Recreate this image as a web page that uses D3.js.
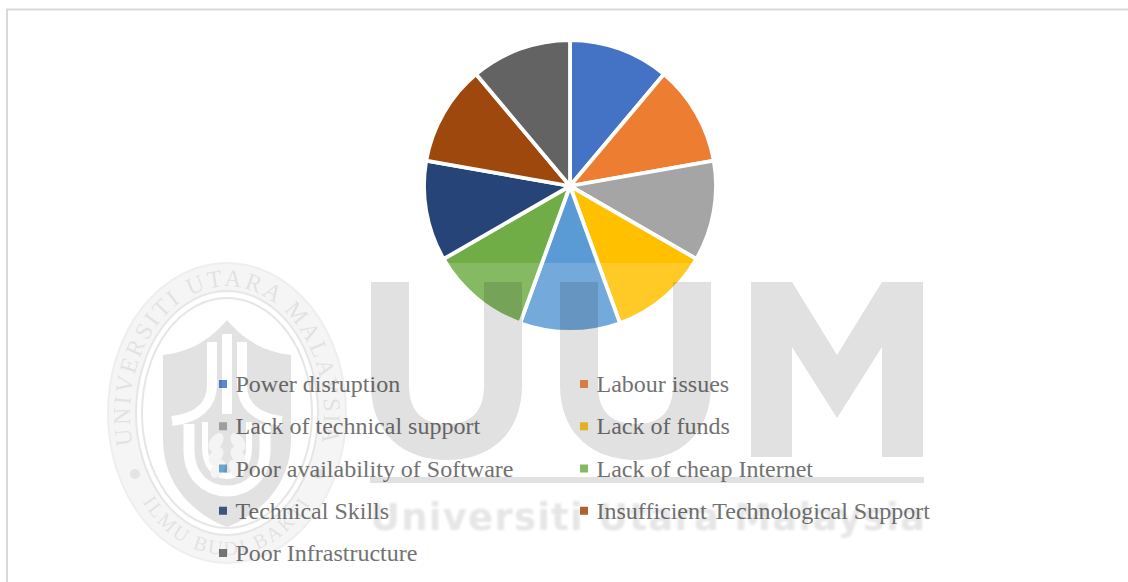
<!DOCTYPE html>
<html>
<head>
<meta charset="utf-8">
<script src="https://cdn.jsdelivr.net/npm/d3@7"></script>
<style>
  html, body { margin: 0; padding: 0; background: #fff; }
  svg { display: block; }
</style>
</head>
<body>
<svg id="chart" width="1128" height="582"></svg>
<script>
// Challenges to adoption, shown as a nine-part pie with a two-column legend.
const categories = [
  "Power disruption", "Labour issues", "Lack of technical support", "Lack of funds",
  "Poor availability of Software", "Lack of cheap Internet", "Technical Skills",
  "Insufficient Technological Support", "Poor Infrastructure"
];
const shares = [1, 1, 1, 1, 1, 1, 1, 1, 1];
const palette = ["#4472c4", "#ed7d31", "#a5a5a5", "#ffc000", "#5b9bd5", "#70ad47", "#264478", "#9e480e", "#636363"];

const svg = d3.select("#chart");
const defs = svg.append("defs");
defs.append("filter").attr("id", "soft").append("feGaussianBlur").attr("stdDeviation", 0.7);
defs.append("filter").attr("id", "softer").append("feGaussianBlur").attr("stdDeviation", 1.1);

// Page frame: only the top and left edges are visible.
svg.append("path").attr("d", "M1128,9.5H7V582").attr("fill", "none").attr("stroke", "#d9d9d9").attr("stroke-width", 2);

// Pie
const colour = d3.scaleOrdinal().domain(categories).range(palette);
const pie = d3.pie().value(d => d.share).sort(null);
const arc = d3.arc().innerRadius(0).outerRadius(146);
const rows = categories.map((name, i) => ({ name, share: shares[i] }));

svg.append("g").attr("transform", "translate(570,186)")
  .selectAll("path").data(pie(rows)).join("path")
  .attr("d", arc)
  .attr("fill", d => colour(d.data.name))
  .attr("stroke", "#fff").attr("stroke-width", 3.8).attr("stroke-linejoin", "miter");

// Legend, filled row by row
const colX = d3.scalePoint().domain([0, 1]).range([219, 580]);
const rowY = d3.scalePoint().domain(d3.range(5)).range([384, 553]);
const legend = svg.append("g").selectAll("g").data(categories).join("g")
  .attr("transform", (d, i) => `translate(${colX(i % 2)},${rowY(Math.floor(i / 2))})`);
legend.append("rect").attr("y", -4).attr("width", 8).attr("height", 8).attr("fill", d => colour(d));
legend.append("text").attr("x", 16.5).attr("y", 8)
  .attr("font-family", "'Liberation Serif', serif").attr("font-size", 24)
  .attr("fill", "#595959").text(d => d);

// Paper-mark layer: a faint veil, then the crest and wordmark printed over everything.
svg.append("rect").attr("x", 100).attr("y", 263).attr("width", 830).attr("height", 300)
  .attr("fill", "#fff").attr("opacity", 0.15);

const mark = svg.append("g").style("mix-blend-mode", "multiply");
const ink = "#e1e1e1";

// Wordmark: U U M
const letters = mark.append("g").attr("fill", ink).attr("filter", "url(#soft)");
const uShape = x => `M${x},282H${x + 38}V385C${x + 38},412 ${x + 52},424 ${x + 76},424C${x + 100},424 ${x + 113},412 ${x + 113},385V282H${x + 151}V385C${x + 151},433 ${x + 120},460 ${x + 76},460C${x + 32},460 ${x},433 ${x},385Z`;
letters.append("path").attr("d", uShape(371));
letters.append("path").attr("d", uShape(560));
letters.append("path").attr("d", "M751,282H792L837,355L882,282H923V457H882V347L837,418L792,347V457H751Z");
letters.append("rect").attr("x", 370).attr("y", 477).attr("width", 554).attr("height", 6);
mark.append("text").attr("x", 370).attr("y", 530)
  .attr("font-family", "'DejaVu Sans', sans-serif").attr("font-weight", "bold").attr("font-size", 37)
  .attr("textLength", 555).attr("lengthAdjust", "spacing")
  .attr("fill", "#e6e6e6").attr("filter", "url(#softer)")
  .text("Universiti Utara Malaysia");

// Crest
const crest = mark.append("g").attr("filter", "url(#soft)");
const cx = 227, cy = 413;
crest.append("ellipse").attr("cx", cx).attr("cy", cy).attr("rx", 119).attr("ry", 150)
  .attr("fill", "#f5f5f5").attr("stroke", "#eeeeee").attr("stroke-width", 2);
crest.append("ellipse").attr("cx", cx).attr("cy", cy).attr("rx", 91).attr("ry", 122)
  .attr("fill", "#fff").attr("stroke", "#e6e6e6").attr("stroke-width", 2);
crest.append("ellipse").attr("cx", cx).attr("cy", cy).attr("rx", 85).attr("ry", 115)
  .attr("fill", "#fff").attr("stroke", "#e6e6e6").attr("stroke-width", 2);

// Shield body
crest.append("path").attr("fill", "#e2e2e2")
  .attr("d", "M227,320C210,340 190,352 163,355V440C163,485 195,515 227,527C259,515 291,485 291,440V355C264,352 244,340 227,320Z");

// White trident and the two cradling arcs
const white = crest.append("g").attr("fill", "none").attr("stroke", "#fff");
white.append("path").attr("stroke-width", 10).attr("d", "M227,334V414");
white.append("path").attr("stroke-width", 10).attr("d", "M212,342V385C212,405 198,418 172,421");
white.append("path").attr("stroke-width", 10).attr("d", "M242,342V385C242,405 256,418 282,421");
white.append("path").attr("stroke-width", 11).attr("d", "M189,424V450C189,476 206,491 227,491C248,491 265,476 265,450V424");
white.append("path").attr("stroke-width", 6).attr("d", "M205,422V448C205,465 215,476 227,476C239,476 249,465 249,448V422");

// Wheat sprig
const wheat = crest.append("g").attr("fill", "#f4f4f4");
[[-11, 442, -35], [11, 442, 35], [-11, 456, -35], [11, 456, 35], [-9, 469, -35], [9, 469, 35]].forEach(([dx, y, a]) => {
  wheat.append("ellipse").attr("cx", 0).attr("cy", 0).attr("rx", 6).attr("ry", 10)
    .attr("transform", `translate(${cx + dx},${y}) rotate(${-a})`);
});

// Lettering round the rim
defs.append("path").attr("id", "rim-top").attr("d", "M135,455A97,128 0 1 1 319,455");
defs.append("path").attr("id", "rim-foot").attr("d", "M136,490A108,141 0 0 0 318,490");
const rimInk = "#e2e2e2";
crest.append("text").attr("font-family", "'Liberation Serif', serif").attr("font-size", 24).attr("fill", rimInk)
  .append("textPath").attr("href", "#rim-top").attr("startOffset", "50%").attr("text-anchor", "middle")
  .attr("letter-spacing", 2.6).text("UNIVERSITI UTARA MALAYSIA");
crest.append("text").attr("font-family", "'Liberation Serif', serif").attr("font-size", 20).attr("fill", rimInk)
  .append("textPath").attr("href", "#rim-foot").attr("startOffset", "50%").attr("text-anchor", "middle")
  .attr("letter-spacing", 2.5).text("ILMU BUDI BAKTI");
crest.selectAll("circle.dot").data([135, 319]).join("circle").attr("class", "dot")
  .attr("cx", d => d).attr("cy", 474).attr("r", 5).attr("fill", "#e4e4e4");
</script>
</body>
</html>
